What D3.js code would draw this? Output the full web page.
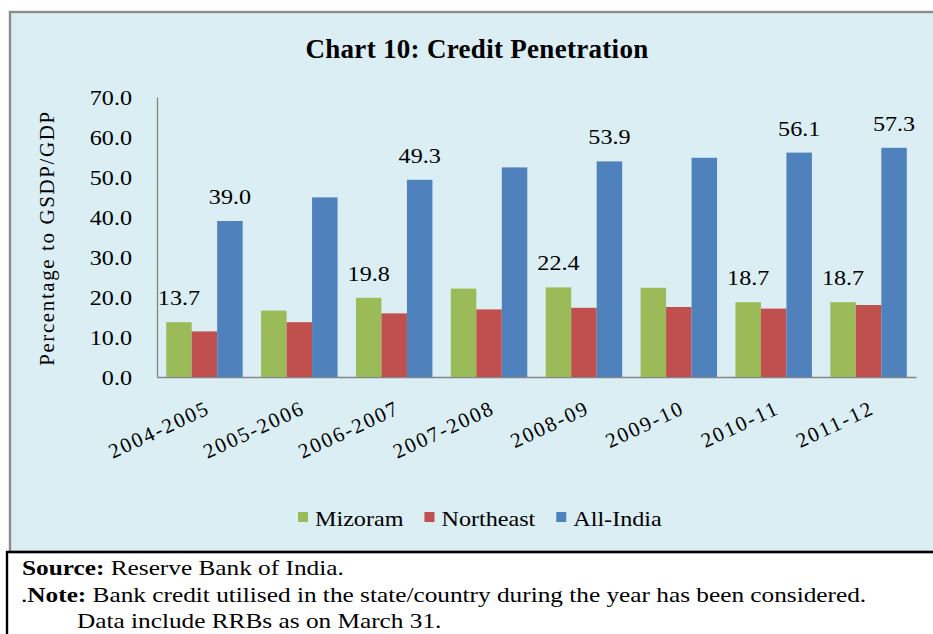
<!DOCTYPE html>
<html>
<head>
<meta charset="utf-8">
<script src="https://cdn.jsdelivr.net/npm/d3@7"></script>
<style>
  html, body { margin: 0; padding: 0; background: #ffffff; }
  svg { display: block; }
  text { font-family: "Liberation Serif", "Times New Roman", serif; fill: #000; }
</style>
</head>
<body>
<svg id="chart" width="933" height="634"></svg>
<script>
// ---- data ----
const categories = ["2004-2005", "2005-2006", "2006-2007", "2007-2008", "2008-09", "2009-10", "2010-11", "2011-12"];
const seriesNames = ["Mizoram", "Northeast", "All-India"];
const mizoram   = [13.7, 16.6, 19.8, 22.1, 22.4, 22.3, 18.7, 18.7];
const northeast = [11.4, 13.7, 15.9, 16.9, 17.3, 17.5, 17.1, 18.0];
const allIndia  = [39.0, 44.9, 49.3, 52.4, 53.9, 54.8, 56.1, 57.3];
// which bars carry a value label (as in the original)
const labelledMizoram  = ["2004-2005", "2006-2007", "2008-09", "2010-11", "2011-12"];
const labelledAllIndia = ["2004-2005", "2006-2007", "2008-09", "2010-11", "2011-12"];
const yTicks = [0, 10, 20, 30, 40, 50, 60, 70];
const title = "Chart 10: Credit Penetration";
const yTitle = "Percentage to GSDP/GDP";

const colors = { "Mizoram": "#9BBB59", "Northeast": "#C0504D", "All-India": "#4F81BD" };
const seriesValues = { "Mizoram": mizoram, "Northeast": northeast, "All-India": allIndia };
const labelled = { "Mizoram": labelledMizoram, "Northeast": [], "All-India": labelledAllIndia };

const svg = d3.select("#chart");
const W = 933, H = 634;
const SX = 1.15;      // horizontal stretch of the original typesetting
const FS = 21;        // chart text size

// ---- frame ----
svg.append("rect").attr("x", 0).attr("y", 0).attr("width", W).attr("height", H).attr("fill", "#ffffff");
svg.append("rect").attr("x", 10).attr("y", 12).attr("width", W - 10 + 5).attr("height", 552 - 12)
  .attr("fill", "#DAEEF3").attr("stroke", "#8C8C8C").attr("stroke-width", 2.4);
svg.append("line").attr("x1", 6).attr("x2", W).attr("y1", 552).attr("y2", 552)
  .attr("stroke", "#000").attr("stroke-width", 2.4);
svg.append("line").attr("x1", 7).attr("x2", 7).attr("y1", 551).attr("y2", H)
  .attr("stroke", "#000").attr("stroke-width", 2.4);

// ---- scales ----
const plot = { left: 157, right: 916, top: 97, bottom: 377 };
const x0 = d3.scaleBand().domain(categories).range([plot.left, plot.right])
  .paddingInner(0.194).paddingOuter(0.097);
const x1 = d3.scaleBand().domain(seriesNames).range([0, x0.bandwidth()]).padding(0);
const y = d3.scaleLinear().domain([0, 70]).range([plot.bottom, plot.top]);

// ---- title ----
svg.append("text").attr("x", 477).attr("y", 58).attr("text-anchor", "middle")
  .style("font-size", "27px").style("font-weight", "bold").style("letter-spacing", "0.3px")
  .text(title);

// ---- y axis ----
const yAxis = d3.axisLeft(y).tickValues(yTicks).tickSize(0).tickPadding(25)
  .tickFormat(d3.format(".1f"));
const gy = svg.append("g").attr("transform", `translate(${plot.left},0)`).call(yAxis);
gy.attr("font-family", null).attr("font-size", null);
gy.select(".domain").attr("stroke", "#868686").attr("stroke-width", 1.3);
gy.selectAll(".tick text")
  .attr("x", 0).attr("dy", null).attr("y", 0)
  .attr("transform", `translate(-25,7) scale(${SX},1)`)
  .style("font-size", FS + "px").attr("fill", "#000");

// ---- x axis ----
const xAxis = d3.axisBottom(x0).tickSize(0).tickFormat(() => "");
const gx = svg.append("g").attr("transform", `translate(0,${plot.bottom})`).call(xAxis);
gx.select(".domain").attr("stroke", "#868686").attr("stroke-width", 1.3);

svg.append("g").selectAll("text").data(categories).join("text")
  .attr("transform", d => `translate(${x0(d) + x0.bandwidth() / 2 + 7},${plot.bottom + 36}) rotate(-25)`)
  .attr("text-anchor", "end")
  .style("font-size", FS + "px").style("letter-spacing", "2px")
  .text(d => d);

// ---- bars ----
const groups = svg.append("g").selectAll("g").data(categories).join("g")
  .attr("transform", d => `translate(${x0(d)},0)`);
groups.selectAll("rect").data((c, i) => seriesNames.map(s => ({ s, c, v: seriesValues[s][i] })))
  .join("rect")
  .attr("x", d => x1(d.s))
  .attr("y", d => y(d.v))
  .attr("width", x1.bandwidth())
  .attr("height", d => y(0) - y(d.v))
  .attr("fill", d => colors[d.s]);

// ---- value labels ----
groups.selectAll("text.val")
  .data((c, i) => seriesNames.map(s => ({ s, c, v: seriesValues[s][i] })).filter(d => labelled[d.s].includes(d.c)))
  .join("text").attr("class", "val")
  .attr("transform", d => `translate(${x1(d.s) + x1.bandwidth() / 2},${y(d.v) - 17}) scale(${SX},1)`)
  .attr("text-anchor", "middle")
  .style("font-size", FS + "px")
  .text(d => d.v.toFixed(1));

// ---- y title ----
svg.append("text").attr("transform", `translate(54,${(plot.top + plot.bottom) / 2 + 1}) rotate(-90)`)
  .attr("text-anchor", "middle")
  .style("font-size", FS + "px").style("letter-spacing", "1.6px")
  .text(yTitle);

// ---- legend ----
const legend = svg.append("g");
let lx = 298;
seriesNames.forEach(s => {
  legend.append("rect").attr("x", lx).attr("y", 512).attr("width", 10).attr("height", 10).attr("fill", colors[s]);
  const t = legend.append("text").attr("transform", `translate(${lx + 17},526) scale(${SX},1)`)
    .style("font-size", FS + "px").text(s);
  lx += 17 + t.node().getComputedTextLength() * SX + 21;
});

// ---- source / notes ----
const notes = svg.append("g").style("font-size", "22px");
const l1 = notes.append("text").attr("transform", `translate(22,575) scale(${SX},1)`);
l1.append("tspan").style("font-weight", "bold").text("Source:");
l1.append("tspan").text(" Reserve Bank of India.");
const l2 = notes.append("text").attr("transform", `translate(21,602) scale(${SX},1)`);
l2.append("tspan").text(".");
l2.append("tspan").style("font-weight", "bold").text("Note:");
l2.append("tspan").text(" Bank credit utilised in the state/country during the year has been considered.");
notes.append("text").attr("transform", `translate(77,628) scale(${SX},1)`).text("Data include RRBs as on March 31.");
</script>
</body>
</html>
